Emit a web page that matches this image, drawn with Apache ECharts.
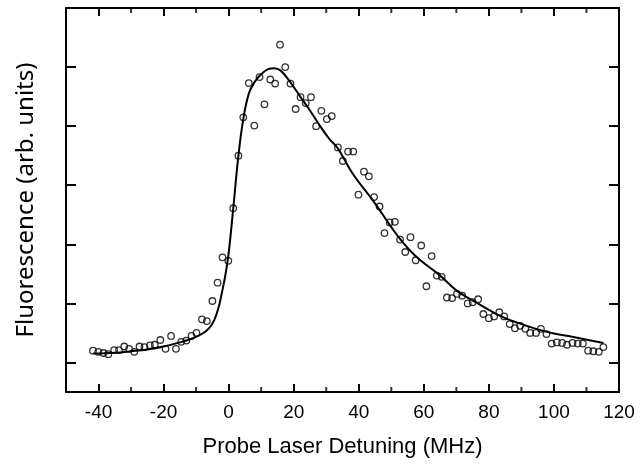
<!DOCTYPE html>
<html>
<head>
<meta charset="utf-8">
<script src="https://cdn.jsdelivr.net/npm/echarts@6/dist/echarts.min.js"></script>
<style>
    html, body {margin: 0; padding: 0; background: #fff;}
    #chart-fluorescence-main {width: 640px; height: 468px;}
</style>
</head>
<body>
<div id="chart-fluorescence-main"></div>
<script>
// measured points (MHz, arb. units)
let detuningPoints = [-41.7, -40.1, -38.5, -37.0, -35.2, -33.7, -32.1, -30.6, -29.0, -27.4, -25.9, -24.2, -22.7, -21.0,
    -19.4, -17.7, -16.2, -14.6, -13.0, -11.4, -9.9, -8.2, -6.7, -5.0, -3.4, -1.9, -0.1, 1.4, 3.0, 4.5, 6.2, 7.9, 9.5,
    11.0, 12.8, 14.3, 15.8, 17.4, 19.0, 20.6, 22.1, 23.7, 25.3, 26.9, 28.5, 30.2, 31.7, 33.6, 35.1, 36.7, 38.3, 39.9,
    41.6, 43.1, 44.7, 46.4, 47.9, 49.5, 51.1, 52.7, 54.3, 55.9, 57.5, 59.2, 60.8, 62.4, 64.0, 65.5, 67.1, 68.7, 70.2,
    71.8, 73.5, 75.0, 76.7, 78.3, 80.0, 81.6, 83.2, 84.7, 86.4, 88.0, 89.6, 91.2, 92.7, 94.5, 96.0, 97.7, 99.3, 100.9,
    102.5, 104.0, 105.7, 107.3, 108.9, 110.5, 112.1, 113.8, 115.2];
let fluorescencePoints = [0.70, 0.68, 0.66, 0.64, 0.71, 0.71, 0.77, 0.73, 0.68, 0.77, 0.76, 0.79, 0.80, 0.88,
    0.73, 0.95, 0.73, 0.85, 0.87, 0.95, 1.00, 1.23, 1.20, 1.54, 1.85, 2.28, 2.22, 3.11, 4.00, 4.65, 5.23, 4.51, 5.33,
    4.87, 5.29, 5.22, 5.88, 5.50, 5.22, 4.79, 4.99, 4.89, 4.99, 4.50, 4.76, 4.62, 4.67, 4.14, 3.91, 4.07, 4.07, 3.34,
    3.73, 3.65, 3.30, 3.14, 2.69, 2.87, 2.88, 2.58, 2.37, 2.62, 2.23, 2.48, 1.79, 2.30, 1.97, 1.95, 1.60, 1.59, 1.66,
    1.63, 1.50, 1.52, 1.57, 1.32, 1.25, 1.28, 1.35, 1.28, 1.15, 1.08, 1.12, 1.07, 1.00, 1.00, 1.07, 0.98, 0.82, 0.84,
    0.83, 0.80, 0.83, 0.82, 0.82, 0.70, 0.69, 0.68, 0.76];

// fitted curve
let detuningFit = [-41.6, -35, -30, -25, -20, -15, -11, -8, -6, -4.4, -3, -2, -1, 0, 1.4, 3.0, 4.5, 6.2, 8, 10, 12, 14,
    16, 19, 22, 25.3, 28.5, 31, 33.5, 38.2, 44.4, 50, 53, 57.7, 65, 70, 75, 80, 85, 90, 95, 100, 106, 115.2];
let fluorescenceFit = [0.65, 0.665, 0.69, 0.72, 0.77, 0.84, 0.91, 0.99, 1.08, 1.22, 1.45, 1.7, 1.98, 2.35, 3.1, 4.0,
    4.62, 5.05, 5.25, 5.38, 5.46, 5.48, 5.44, 5.24, 5.0, 4.74, 4.47, 4.28, 4.13, 3.69, 3.24, 2.79, 2.57, 2.29, 1.97,
    1.72, 1.55, 1.39, 1.25, 1.15, 1.06, 0.99, 0.93, 0.83];

// axis ticks
let xMajorTicks = [-40, -20, 0, 20, 40, 60, 80, 100];
let xMinorTicks = [-30, -10, 10, 30, 50, 70, 90, 110];
let xTickLabels = [-40, -20, 0, 20, 40, 60, 80, 100, 120];
let yTicks = [0.5, 1.5, 2.5, 3.5, 4.5, 5.5];

let yMin = 0, yMax = 6.5;

let myChart = echarts.init(document.getElementById('chart-fluorescence-main'));

let lineStyleAxis = {color: '#000', width: 2};

function xAxisTemplate(position, showLabel, name) {
    return {
        type: 'value',
        position: position,
        min: -50,
        max: 120,
        splitLine: {show: false},
        axisLine: {show: true, onZero: false, lineStyle: lineStyleAxis},
        axisTick: {show: true, inside: true, length: 8, customValues: xMajorTicks, lineStyle: lineStyleAxis},
        axisLabel: {
            show: showLabel,
            customValues: xTickLabels,
            margin: 11,
            color: '#000',
            fontSize: 19,
            fontFamily: 'Liberation Sans'
        },
        name: name,
        nameLocation: 'middle',
        nameGap: 44,
        nameTextStyle: {color: '#000', fontSize: 22, fontFamily: 'Liberation Sans'}
    };
}

function yAxisTemplate(position, name) {
    return {
        type: 'value',
        position: position,
        min: yMin,
        max: yMax,
        splitLine: {show: false},
        axisLine: {show: true, onZero: false, lineStyle: lineStyleAxis},
        axisTick: {show: true, inside: true, length: 10, customValues: yTicks, lineStyle: lineStyleAxis},
        axisLabel: {show: false},
        name: name,
        nameLocation: 'middle',
        nameGap: 28,
        nameTextStyle: {color: '#000', fontSize: 24, fontFamily: 'Noto Sans'}
    };
}

// minor ticks drawn as thin rect symbols sitting on the frame
function minorTickSeries(yValue, offsetY) {
    return {
        name: 'minor ticks',
        type: 'scatter',
        data: xMinorTicks.map(x => [x, yValue]),
        symbol: 'rect',
        symbolSize: [2, 5],
        symbolOffset: [0, offsetY],
        itemStyle: {color: '#000'},
        clip: false,
        silent: true,
        z: 1
    };
}

let option = {
    animation: false,
    backgroundColor: '#fff',
    grid: {left: 66, right: 21, top: 8, bottom: 76},
    xAxis: [
        xAxisTemplate('bottom', true, 'Probe Laser Detuning (MHz)'),
        xAxisTemplate('top', false, '')
    ],
    yAxis: [
        yAxisTemplate('left', 'Fluorescence (arb. units)'),
        yAxisTemplate('right', '')
    ],
    series: [
        minorTickSeries(yMin, -2.5),
        minorTickSeries(yMax, 2.5),
        {
            name: 'fit',
            type: 'line',
            data: detuningFit.map((x, i) => [x, fluorescenceFit[i]]),
            smooth: 0.4,
            showSymbol: false,
            lineStyle: {color: '#000', width: 2},
            z: 2
        },
        {
            name: 'data',
            type: 'scatter',
            data: detuningPoints.map((x, i) => [x, fluorescencePoints[i]]),
            symbol: 'circle',
            symbolSize: 6.5,
            itemStyle: {color: 'rgba(255,255,255,0)', borderColor: '#000', borderWidth: 1.3},
            z: 3
        }
    ]
};
option && myChart.setOption(option);
</script>
</body>
</html>
